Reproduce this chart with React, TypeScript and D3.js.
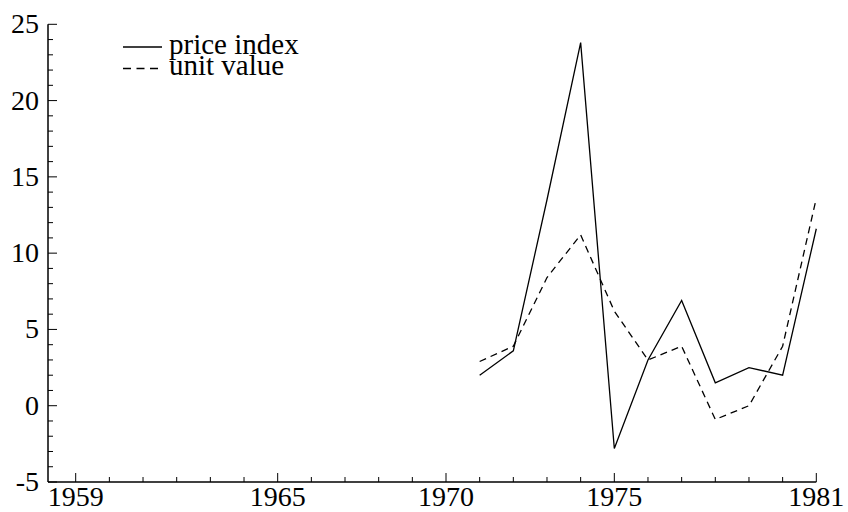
import React from "react";
import * as d3 from "d3";

const years = [1971, 1972, 1973, 1974, 1975, 1976, 1977, 1978, 1979, 1980, 1981];
const priceIndex = [2.0, 3.6, 13.5, 23.8, -2.8, 3.0, 6.9, 1.5, 2.5, 2.0, 11.6];
const unitValue = [2.9, 3.9, 8.4, 11.2, 6.2, 3.0, 3.9, -0.9, 0.0, 3.9, 13.6];
const xMajorTicks = [1959, 1965, 1970, 1975, 1981];
const yMajorTicks = [-5, 0, 5, 10, 15, 20, 25];
const legendLabels = ["price index", "unit value"];

const W = 848;
const H = 512;
const FONT = "'Liberation Serif', 'Times New Roman', serif";

export default function App() {
  const x = d3.scaleLinear().domain([1959, 1981]).range([75.7, 816.3]);
  const y = d3.scaleLinear().domain([-5, 25]).range([482, 24.3]);
  const axisLeft = 48;
  const line = d3
    .line<[number, number]>()
    .x((d) => x(d[0]))
    .y((d) => y(d[1]));
  const pData = years.map((yr, i) => [yr, priceIndex[i]] as [number, number]);
  const uData = years.map((yr, i) => [yr, unitValue[i]] as [number, number]);
  const xMinor = d3.range(1959, 1982);
  const yMinor = d3.range(-5, 26);
  const x0 = axisLeft;
  const yBase = y(-5);

  return (
    <svg
      width={W}
      height={H}
      style={{ position: "absolute", left: 0, top: 0, background: "#fff" }}
      fontFamily={FONT}
    >
      <rect width={W} height={H} fill="#fff" />
      {/* axes */}
      <line x1={x0} x2={x0} y1={y(25)} y2={yBase} stroke="#000" strokeWidth={1.5} />
      <line x1={x0} x2={x(1981)} y1={yBase} y2={yBase} stroke="#000" strokeWidth={1.5} />
      {/* y ticks */}
      {yMinor.map((v) => {
        const major = yMajorTicks.includes(v);
        return (
          <line
            key={"yt" + v}
            x1={x0}
            x2={x0 + (major ? 9 : 5)}
            y1={y(v)}
            y2={y(v)}
            stroke="#000"
            strokeWidth={1}
          />
        );
      })}
      {yMajorTicks.map((v) => (
        <text
          key={"yl" + v}
          x={39}
          y={y(v) + 9}
          textAnchor="end"
          fontSize={28}
          fill="#000"
        >
          {v}
        </text>
      ))}
      {/* x ticks */}
      {xMinor.map((v) => {
        const major = xMajorTicks.includes(v);
        return (
          <line
            key={"xt" + v}
            x1={x(v)}
            x2={x(v)}
            y1={yBase}
            y2={yBase - (major ? 9 : 5)}
            stroke="#000"
            strokeWidth={1}
          />
        );
      })}
      {xMajorTicks.map((v) => (
        <text
          key={"xl" + v}
          x={x(v)}
          y={506}
          textAnchor="middle"
          fontSize={28}
          fill="#000"
        >
          {v}
        </text>
      ))}
      {/* series */}
      <path d={line(pData) || ""} fill="none" stroke="#000" strokeWidth={1.3} />
      <path
        d={line(uData) || ""}
        fill="none"
        stroke="#000"
        strokeWidth={1.3}
        strokeDasharray="7,5"
      />
      {/* legend */}
      <line x1={123} x2={162} y1={47} y2={47} stroke="#000" strokeWidth={1.3} />
      <line
        x1={123}
        x2={162}
        y1={68.5}
        y2={68.5}
        stroke="#000"
        strokeWidth={1.3}
        strokeDasharray="8,5.5"
      />
      <text x={169} y={54} fontSize={29} fill="#000">
        {legendLabels[0]}
      </text>
      <text x={169} y={75} fontSize={29} fill="#000">
        {legendLabels[1]}
      </text>
    </svg>
  );
}
